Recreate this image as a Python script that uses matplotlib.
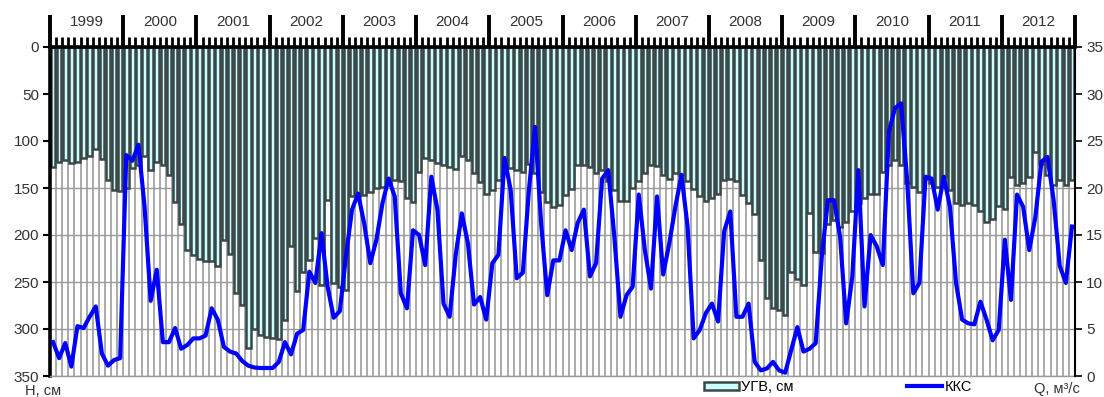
import matplotlib
matplotlib.use('Agg')
import matplotlib.pyplot as plt
import numpy as np

plt.rcParams['font.family'] = ['Liberation Sans', 'DejaVu Sans']

years = [1999, 2000, 2001, 2002, 2003, 2004, 2005, 2006, 2007, 2008, 2009, 2010, 2011, 2012]

# УГВ, см (по месяцам)
ugv = [
    128, 122, 120, 123, 122, 118, 116, 108, 119, 141, 152, 153,   # 1999
    150, 129, 125, 116, 131, 122, 125, 136, 165, 188, 216, 221,   # 2000
    226, 228, 228, 233, 205, 220, 262, 274, 320, 300, 306, 308,   # 2001
    310, 311, 290, 212, 260, 239, 227, 203, 253, 163, 251, 255,   # 2002
    259, 159, 159, 157, 154, 150, 149, 145, 141, 143, 161, 165,   # 2003
    133, 118, 120, 123, 125, 128, 130, 116, 120, 134, 144, 156,   # 2004
    152, 142, 128, 129, 131, 133, 124, 134, 154, 165, 170, 168,   # 2005
    157, 151, 126, 126, 128, 134, 131, 143, 152, 164, 164, 150,   # 2006
    143, 134, 126, 127, 136, 140, 134, 136, 143, 151, 159, 164,   # 2007
    161, 156, 142, 140, 143, 157, 166, 178, 227, 267, 278, 280,   # 2008
    285, 239, 247, 253, 177, 218, 219, 188, 184, 191, 186, 174,   # 2009
    166, 161, 156, 156, 133, 126, 120, 125, 145, 149, 154, 140,   # 2010
    145, 149, 138, 152, 166, 168, 166, 168, 174, 186, 183, 169,   # 2011
    172, 138, 147, 145, 138, 112, 124, 136, 147, 142, 147, 142,   # 2012
]

# ККС, м3/с
kks = [
    3.6, 1.9, 3.5, 1.0, 5.3, 5.1, 6.3, 7.4, 2.4, 1.1, 1.7, 1.9,
    23.5, 22.9, 24.6, 18.0, 8.0, 11.3, 3.6, 3.6, 5.1, 2.9, 3.3, 4.0,
    4.0, 4.3, 7.2, 6.0, 3.1, 2.6, 2.4, 1.6, 1.1, 0.9, 0.85, 0.85,
    0.85, 1.5, 3.6, 2.3, 4.5, 4.9, 11.1, 9.9, 15.2, 9.5, 6.2, 6.9,
    12.7, 17.7, 19.4, 16.2, 12.0, 14.5, 18.4, 21.0, 19.1, 8.8, 7.2, 15.5,
    15.0, 11.8, 21.2, 17.7, 7.7, 6.3, 12.9, 17.3, 14.1, 7.6, 8.4, 6.0,
    12.0, 12.9, 23.2, 19.8, 10.4, 11.0, 19.8, 26.5, 16.2, 8.6, 12.3, 12.3,
    15.5, 13.4, 16.3, 17.7, 10.6, 12.0, 21.0, 21.9, 14.8, 6.3, 8.6, 9.5,
    19.3, 13.4, 9.3, 19.1, 10.8, 14.1, 18.0, 21.4, 15.9, 4.0, 4.9, 6.7,
    7.7, 5.8, 15.4, 17.5, 6.3, 6.3, 7.7, 1.5, 0.6, 0.8, 1.5, 0.6,
    0.35, 2.8, 5.2, 2.6, 2.9, 3.5, 12.7, 18.7, 18.7, 14.8, 5.6, 10.6,
    21.9, 7.4, 15.0, 13.8, 11.8, 26.0, 28.5, 29.0, 20.7, 8.8, 9.9, 21.2,
    21.0, 17.7, 21.2, 18.0, 9.9, 6.0, 5.6, 5.5, 7.9, 6.0, 3.8, 4.9,
    14.5, 8.1, 19.3, 18.0, 13.4, 16.9, 22.8, 23.3, 18.7, 11.7, 9.9, 15.9,
]

x = np.arange(len(ugv))
n = len(ugv)

fig = plt.figure(figsize=(11.04, 3.97), dpi=100)
ax = fig.add_axes([50/1104, 21/397, 1025/1104, 329/397])

# столбцы УГВ
bars = ax.bar(x, ugv, width=0.75, color='#ccffff', edgecolor='#3c4646',
              linewidth=1.8, zorder=2, label='УГВ, см')
ax.set_ylim(350, 0)
ax.set_xlim(-0.5, n - 0.5)
ax.set_yticks(np.arange(0, 351, 50))

# сетка
ax.set_xticks(np.arange(-0.5, n, 12))
ax.set_xticks(np.arange(-0.5, n, 1), minor=True)
ax.grid(axis='x', which='both', color='#aaaaaa', linewidth=1.4, zorder=0)
ax.grid(axis='y', which='major', color='#999999', linewidth=1.0, zorder=0)
ax.set_axisbelow(True)

# верхняя шкала: месяцы и годы
ax.xaxis.tick_top()
ax.tick_params(axis='x', which='major', length=23, width=2.8, color='black',
               labeltop=False, labelbottom=False, direction='out')
ax.tick_params(axis='x', which='minor', length=7, width=2.0, color='black',
               direction='out')
for i, yr in enumerate(years):
    ax.text(12 * i + 5.5, 1.076, str(yr), transform=ax.get_xaxis_transform(),
            ha='center', va='center', fontsize=11, color='#333333')

ax.tick_params(axis='y', which='major', length=5, width=1.5, direction='out',
               labelsize=11, labelcolor='#333333', pad=3)
ax.spines['left'].set_linewidth(2.6)
ax.spines['top'].set_linewidth(2.6)
ax.spines['right'].set_visible(False)
ax.spines['bottom'].set_color('#999999')
ax.spines['bottom'].set_linewidth(1.0)

# ККС на правой оси
ax2 = ax.twinx()
line, = ax2.plot(x, kks, color='#0000ff', linewidth=3.0, label='ККС',
                 solid_joinstyle='round', zorder=3)
ax2.set_ylim(0, 35)
ax2.set_yticks(np.arange(0, 36, 5))
ax2.tick_params(axis='y', length=5, width=1.2, direction='out',
                labelsize=11, labelcolor='#333333', pad=3)
ax2.spines['right'].set_linewidth(1.5)
for s in ['left', 'top', 'bottom']:
    ax2.spines[s].set_visible(False)

fig.text(25/1104, 6/397, 'H, см', fontsize=10.5, color='#333333',
         ha='left', va='center')
fig.text(1034/1104, 1/397, 'Q, м³/с', fontsize=10.5, color='#333333',
         ha='left', va='bottom')

fig.legend(handles=[bars, line], labels=['УГВ, см', 'ККС'], ncol=2,
           loc='center left', bbox_to_anchor=(704/1104, 10/397),
           frameon=False, fontsize=10.5, handlelength=2.4, handleheight=0.5,
           columnspacing=7.8, handletextpad=0.15, borderpad=0, borderaxespad=0)

fig.savefig('out.png', dpi=100)
